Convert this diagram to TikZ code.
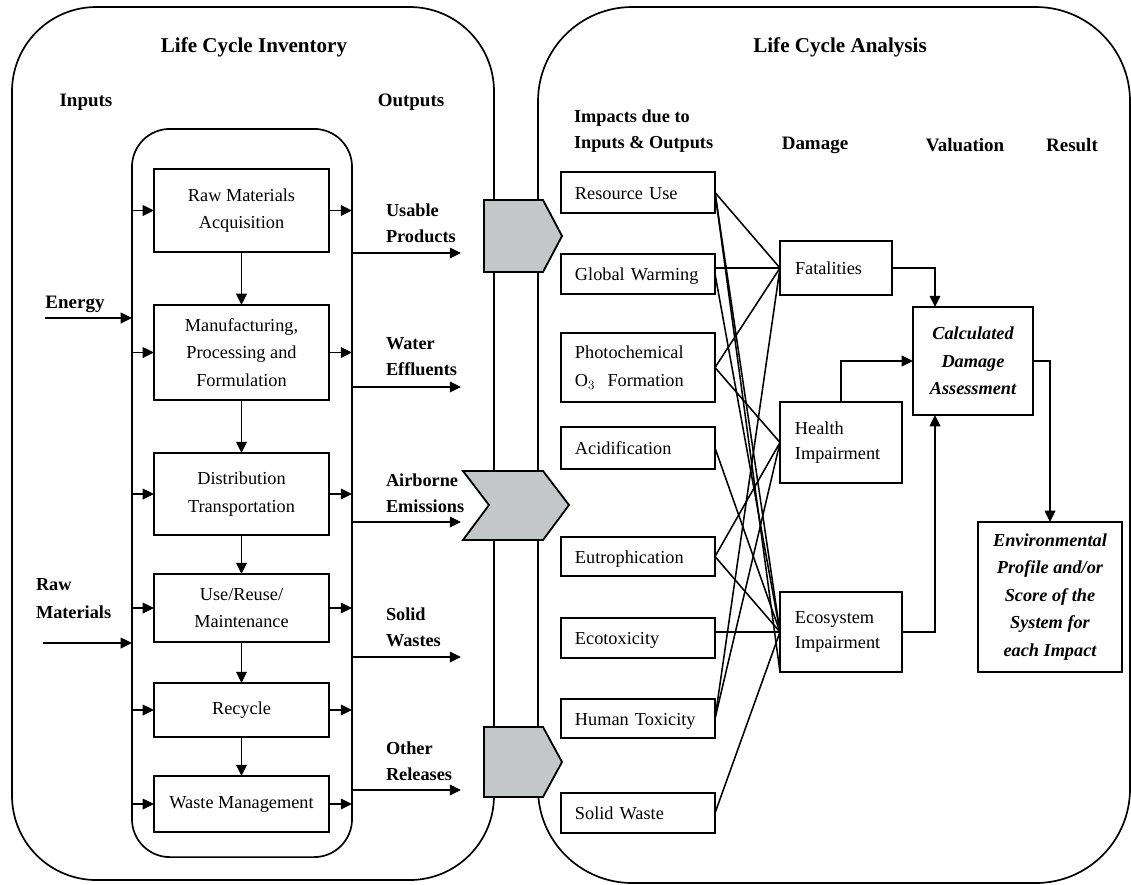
\documentclass[tikz,border=0pt]{standalone}
\usepackage{fontspec}
\setmainfont{Liberation Serif}
\usetikzlibrary{arrows.meta}
\definecolor{tabgray}{RGB}{196,199,199}
\begin{document}
\begin{tikzpicture}[x=0.025cm, y=-0.025cm,
  every node/.style={inner sep=0pt, outer sep=0pt},
  panel/.style={draw, line width=1.2pt, rounded corners=#1},
  ttl/.style={font=\fontsize{15}{18}\selectfont\bfseries},
  head/.style={font=\fontsize{13.5}{18.5}\selectfont\bfseries},
  flowlbl/.style={font=\fontsize{13}{18.5}\selectfont\bfseries, align=left, anchor=west},
  stage/.style={draw, line width=1.4pt, minimum width=4.375cm, align=center,
    font=\fontsize{13}{19.5}\selectfont},
  ibox/.style={draw, line width=1.4pt, text width=3.15cm, inner xsep=0.35cm,
    align=left, font=\fontsize{13}{20}\selectfont},
  oneline/.style={text height=1.2em, text depth=0.25em},
  dbox/.style={draw, line width=1.4pt, inner xsep=0.375cm, align=left,
    font=\fontsize{13}{18}\selectfont},
  vbox/.style={draw, line width=1.4pt, align=center,
    font=\fontsize{13}{19.5}\selectfont\bfseries\itshape},
  tab/.style={fill=tabgray, draw, line width=1.3pt},
  arr/.style={line width=1.2pt, -{Triangle[length=8pt,width=7.5pt]}},
  link/.style={line width=1.1pt}
]
\useasboundingbox (0,0) rectangle (1131,884);

% ---------- panels ----------
\draw[panel=60pt] (12,7) rectangle (494,880);
\draw[panel=67pt] (538,7) rectangle (1130,883);
\node[draw, line width=1.2pt, rounded corners=27pt, minimum width=5.5cm,
  minimum height=18.2cm] (inner) at (242,493) {};

% ---------- inventory side ----------
\node[ttl] (invtitle) at (254,47) {Life Cycle Inventory};
\node[head] (inputs) at (86,102) {Inputs};
\node[head] (outputs) at (411,102) {Outputs};

\node[stage, minimum height=2.075cm] (rma) at (241.5,210.5) {Raw Materials\\Acquisition};
\node[stage, minimum height=2.375cm] (mpf) at (241.5,352.5) {Manufacturing,\\Processing and\\Formulation};
\node[stage, minimum height=2.05cm] (dt) at (241.5,494) {Distribution\\Transportation};
\node[stage, minimum height=1.7cm] (use) at (241.5,608) {Use/Reuse/\\Maintenance};
\node[stage, minimum height=1.35cm] (rec) at (241.5,710) {Recycle};
\node[stage, minimum height=1.4cm] (wm) at (241.5,804) {Waste Management};

\foreach \a/\b in {rma/mpf, mpf/dt, dt/use, use/rec, rec/wm}
  \draw[arr] (\a.south) -- (\b.north);
\foreach \s in {rma, mpf, dt, use, rec, wm} {
  \draw[arr] (inner.west |- \s.west) -- (\s.west);
  \draw[arr] (\s.east) -- (inner.east |- \s.east);
}

% inputs
\node[head] (energy) at (75,304) {Energy};
\coordinate (energyIn) at (45,318);
\draw[arr, line width=1.7pt] (energyIn) -- (inner.west |- energyIn);
\node[flowlbl, font=\fontsize{13}{20}\selectfont\bfseries] (rawmat) at (36,599) {Raw\\Materials};
\coordinate (rawIn) at (43,643);
\draw[arr] (rawIn) -- (inner.west |- rawIn);

% outputs
\node[flowlbl] (usable) at (386,223) {Usable\\Products};
\node[flowlbl] (water) at (386,357) {Water\\Effluents};
\node[flowlbl] (air) at (386,493) {Airborne\\Emissions};
\node[flowlbl] (solid) at (386,627) {Solid\\Wastes};
\node[flowlbl] (other) at (386,761) {Other\\Releases};
\coordinate (o1) at (461,253);
\coordinate (o2) at (461,387);
\coordinate (o3) at (461,522);
\coordinate (o4) at (461,657);
\coordinate (o5) at (461,790);
\foreach \o in {o1,o2,o3,o4,o5}
  \draw[arr] (inner.east |- \o) -- (\o);

% transfer tabs between the two panels
\filldraw[tab] (484,200) -- (543,200) -- (562,236) -- (543,272) -- (484,272) -- cycle;
\filldraw[tab] (463,471) -- (543,471) -- (569,505) -- (543,540) -- (463,540) -- (489,505) -- cycle;
\filldraw[tab] (484,727) -- (543,727) -- (562,762) -- (543,797) -- (484,797) -- cycle;

% ---------- analysis side ----------
\node[ttl] (antitle) at (840,47) {Life Cycle Analysis};
\node[head, align=left, anchor=west, font=\fontsize{13}{18}\selectfont\bfseries]
  (impacts) at (574,131) {Impacts due to\\Inputs \& Outputs};
\node[head] (damage) at (815,145) {Damage};
\node[head] (valuation) at (965,145) {Valuation};
\node[head] (result) at (1072,145) {Result};

\node[ibox, oneline, minimum height=1.025cm] (ru) at (638,192.5) {Resource Use};
\node[ibox, oneline, minimum height=1.0cm] (gw) at (638,274) {Global Warming};
\node[ibox, minimum height=1.725cm] (ph) at (638,367.5) {Photochemical\\O$_3$\ \ Formation};
\node[ibox, oneline, minimum height=1.05cm] (ac) at (638,448) {Acidification};
\node[ibox, oneline, minimum height=0.975cm] (eu) at (638,556.5) {Eutrophication};
\node[ibox, oneline, minimum height=1.0cm] (et) at (638,638) {Ecotoxicity};
\node[ibox, oneline, minimum height=0.975cm] (ht) at (638,718.5) {Human Toxicity};
\node[ibox, oneline, minimum height=1.0cm] (sw) at (638,813) {Solid Waste};

\node[dbox, text width=2.05cm, minimum height=1.35cm] (fat) at (836,268) {Fatalities};
\node[dbox, text width=2.3cm, minimum height=2.025cm] (hea) at (841,442.5) {Health\\Impairment};
\node[dbox, text width=2.3cm, minimum height=2.0cm] (eco) at (841,632) {Ecosystem\\Impairment};

\node[vbox, minimum width=3.0cm, minimum height=2.7cm] (cda) at (973,361) {Calculated\\Damage\\Assessment};
\node[vbox, minimum width=3.6cm, minimum height=3.75cm] (res) at (1050,597)
  {Environmental\\Profile and/or\\Score of the\\System for\\each Impact};

% impact-to-damage links
\draw[link] (ru.east) -- (fat.west);
\draw[link] (ru.east) -- (eco.west);
\draw[link] (ru.east) -- (eco.south west);
\draw[link, line width=1.8pt] (gw.east |- fat.west) -- (fat.west);
\draw[link] (gw.east) -- (eco.west);
\draw[link] (ph.east) -- (fat.west);
\draw[link] (ph.east) -- (hea.west);
\draw[link] (ac.east) -- (eco.west);
\draw[link] (eu.east) -- (hea.west);
\draw[link] (eu.east) -- (eco.west);
\draw[link, line width=1.8pt] (et.east |- eco.west) -- (eco.west);
\draw[link] (ht.east) -- (fat.west);
\draw[link] (ht.east) -- (hea.west);
\draw[link] (sw.east) -- (eco.west);

% damage-to-valuation links
\coordinate (cdaTop) at (935,307);
\coordinate (cdaBot) at (935,415);
\draw[arr] (fat.east) -| (cdaTop);
\draw[arr] (hea.north) |- (cda.west);
\draw[arr] (eco.east) -| (cdaBot);
\draw[arr] (cda.east) -| (res.north);
\end{tikzpicture}
\end{document}
